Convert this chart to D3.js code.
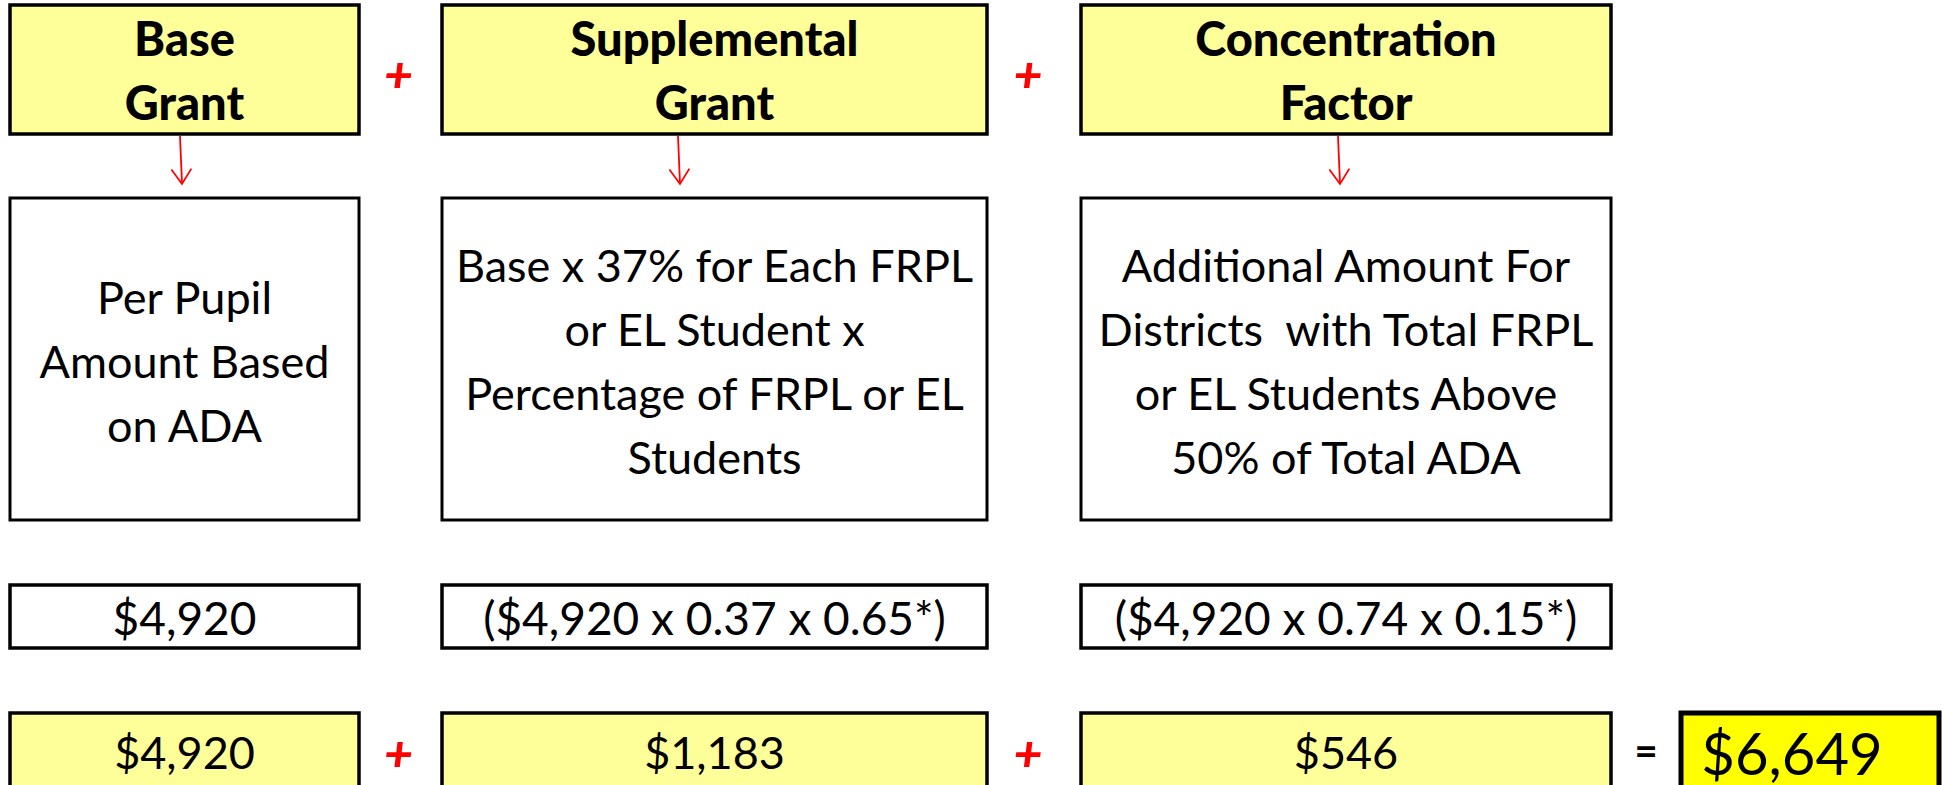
<!DOCTYPE html>
<html>
<head>
  <meta charset="UTF-8" />
  <title>LCFF formula</title>
  <script src="https://d3js.org/d3.v7.min.js"></script>
  <style>
    body { margin: 0; background: #fff; }
    text { font-family: Lato, "Noto Sans", sans-serif; fill: #000; }
  </style>
</head>
<body>
  <div id="chart"></div>
  <script>
    // data
    const headers = [["Base", "Grant"], ["Supplemental", "Grant"], ["Concentration", "Factor"]];
    const descriptions = [
      ["Per Pupil", "Amount Based", "on ADA"],
      ["Base x 37% for Each FRPL", "or EL Student x", "Percentage of FRPL or EL", "Students"],
      ["Additional Amount For", "Districts  with Total FRPL", "or EL Students Above", "50% of Total ADA"]
    ];
    const formulas = ["$4,920", "($4,920 x 0.37 x 0.65*)", "($4,920 x 0.74 x 0.15*)"];
    const amounts = [4920, 1183, 546];
    const total = 6649;

    // layout
    const W = 1942, H = 785;
    const colLeft = [10, 442, 1081], colRight = [359, 987, 1611];
    const totalBox = [1681, 1939];
    const rows = { head: [5, 134], desc: [198, 520], formula: [585, 648], amount: [713, 810] };
    const lightYellow = "#ffff99", brightYellow = "#ffff00", red = "#ff0000";
    const fmt = d3.format("$,");

    const svg = d3.select("#chart").append("svg")
      .attr("width", W).attr("height", H)
      .style("display", "block");

    const x = d3.scaleOrdinal().domain([0, 1, 2]).range(colLeft);
    const xr = d3.scaleOrdinal().domain([0, 1, 2]).range(colRight);
    const cx = i => (x(i) + xr(i)) / 2;

    function boxes(cls, data, row, fill, sw) {
      svg.selectAll("rect." + cls)
        .data(data)
        .enter()
        .append("rect")
        .attr("class", cls)
        .attr("x", (d, i) => x(i))
        .attr("y", row[0])
        .attr("width", (d, i) => xr(i) - x(i))
        .attr("height", row[1] - row[0])
        .attr("fill", fill)
        .attr("stroke", "#000")
        .attr("stroke-width", sw);
    }

    function lines(data, row, size, weight, lh, yOff) {
      const mid = (row[0] + row[1]) / 2;
      data.forEach((ls, i) => {
        const n = ls.length;
        ls.forEach((s, j) => {
          svg.append("text")
            .attr("x", cx(i))
            .attr("y", mid + (j - (n - 1) / 2) * lh + yOff)
            .attr("text-anchor", "middle")
            .attr("dominant-baseline", "central")
            .attr("font-size", size)
            .attr("font-weight", weight)
            .style("white-space", "pre")
            .text(s);
        });
      });
    }

    // row 1: headers
    boxes("head", headers, rows.head, lightYellow, 3.5);
    lines(headers, rows.head, 47, 900, 64, 0);

    // arrows
    const marker = svg.append("defs").append("marker")
      .attr("id", "arr").attr("viewBox", "0 0 18 22")
      .attr("refX", 16).attr("refY", 11)
      .attr("markerWidth", 18).attr("markerHeight", 22)
      .attr("markerUnits", "userSpaceOnUse")
      .attr("orient", "auto");
    marker.append("path").attr("d", "M1,1 L16,11 L1,21")
      .attr("fill", "none").attr("stroke", red).attr("stroke-width", 1.8);
    const arrowX = [182, 680, 1340];
    svg.selectAll("line.arrow")
      .data(arrowX)
      .enter()
      .append("line")
      .attr("class", "arrow")
      .attr("x1", d => d - 2).attr("x2", d => d)
      .attr("y1", rows.head[1] + 2)
      .attr("y2", 184)
      .attr("stroke", red).attr("stroke-width", 1.8)
      .attr("marker-end", "url(#arr)");

    // row 2: descriptions
    boxes("desc", descriptions, rows.desc, "#fff", 3);
    lines(descriptions, rows.desc, 45, 400, 64, 2);

    // row 3: formulas
    boxes("formula", formulas, rows.formula, "#fff", 3.5);
    lines(formulas.map(s => [s]), rows.formula, 46, 400, 0, 1);

    // row 4: amounts
    boxes("amount", amounts, rows.amount, lightYellow, 3.5);
    svg.selectAll("text.amount")
      .data(amounts)
      .enter()
      .append("text")
      .attr("class", "amount")
      .attr("x", (d, i) => cx(i))
      .attr("y", 752)
      .attr("text-anchor", "middle")
      .attr("dominant-baseline", "central")
      .attr("font-size", 45)
      .text(d => fmt(d));

    // total box
    svg.append("rect")
      .attr("x", totalBox[0]).attr("y", rows.amount[0])
      .attr("width", totalBox[1] - totalBox[0])
      .attr("height", rows.amount[1] - rows.amount[0])
      .attr("fill", brightYellow)
      .attr("stroke", "#000").attr("stroke-width", 5);
    svg.append("text")
      .attr("x", (totalBox[0] + totalBox[1]) / 2 - 18)
      .attr("y", 752)
      .attr("text-anchor", "middle")
      .attr("dominant-baseline", "central")
      .attr("font-size", 58)
      .text(fmt(total));

    // operators
    const plusPos = [
      [(colRight[0] + colLeft[1]) / 2 - 2, 73],
      [(colRight[1] + colLeft[2]) / 2 - 6, 73],
      [(colRight[0] + colLeft[1]) / 2 - 2, 752],
      [(colRight[1] + colLeft[2]) / 2 - 6, 752]
    ];
    svg.selectAll("text.plus")
      .data(plusPos)
      .enter()
      .append("text")
      .attr("class", "plus")
      .attr("x", d => d[0]).attr("y", d => d[1])
      .attr("text-anchor", "middle")
      .attr("dominant-baseline", "central")
      .attr("font-size", 50)
      .attr("font-weight", 900)
      .attr("font-style", "italic")
      .style("fill", red)
      .text("+");
    svg.append("text")
      .attr("x", (colRight[2] + totalBox[0]) / 2)
      .attr("y", 750)
      .attr("text-anchor", "middle")
      .attr("dominant-baseline", "central")
      .attr("font-size", 40)
      .attr("font-weight", 700)
      .text("=");
  </script>
</body>
</html>
